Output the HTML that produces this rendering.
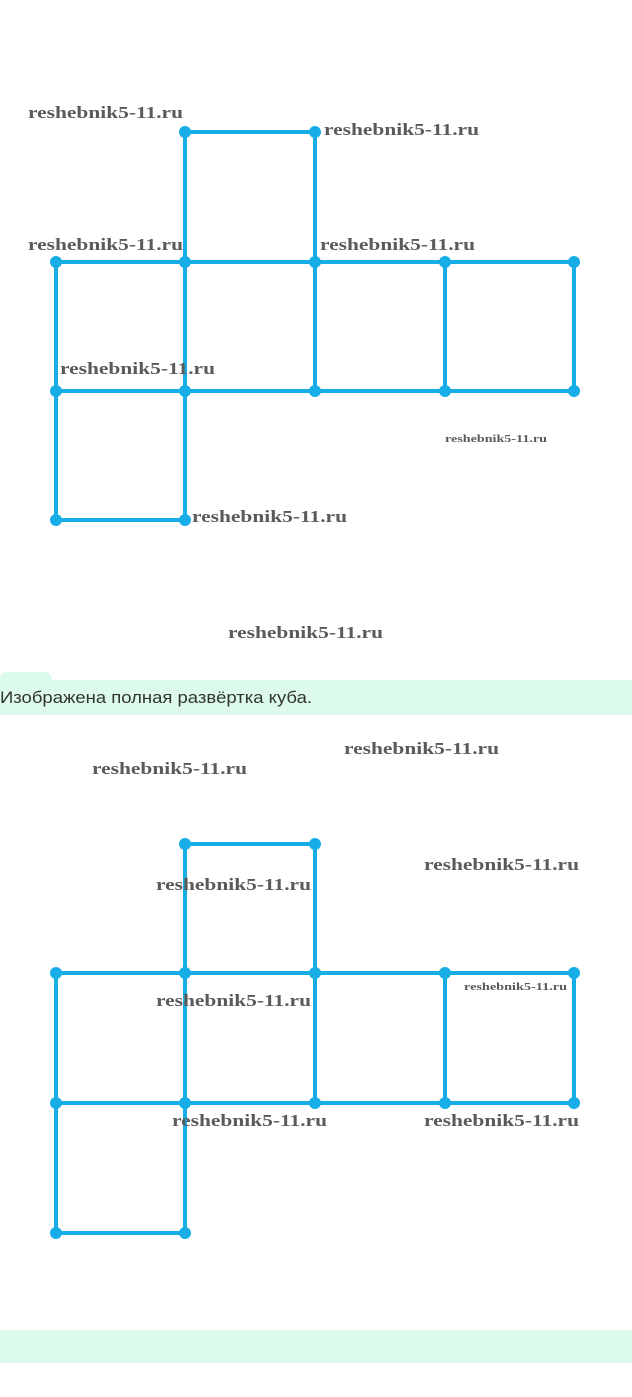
<!DOCTYPE html>
<html><head><meta charset="utf-8"><style>
html,body{margin:0;padding:0;background:#fff;}
body{width:632px;height:1397px;position:relative;overflow:hidden;}
svg{position:absolute;left:0;top:0;}
.w{font-family:"Liberation Serif",serif;font-weight:bold;font-size:17px;fill:#5a5a5a;}
.s{font-family:"Liberation Serif",serif;font-weight:bold;font-size:11px;fill:#5a5a5a;}
.t{font-family:"Liberation Sans","DejaVu Sans",sans-serif;font-size:17px;fill:#333;}
</style></head><body>
<svg width="632" height="1397" viewBox="0 0 632 1397" xmlns="http://www.w3.org/2000/svg">
<rect x="0" y="672" width="52" height="14" rx="7" fill="#dcfbea"/>
<rect x="0" y="680" width="632" height="35" fill="#dcfbea"/>
<text class="t" x="0" y="703" textLength="312" lengthAdjust="spacingAndGlyphs">Изображена полная развёртка куба.</text>
<rect x="0" y="1330" width="632" height="33" fill="#dcfbea"/>

<g stroke="#17aee8" stroke-width="4" fill="none" stroke-linecap="round">
<path d="M185 262V132H315V262"/>
<path d="M56 262H574V391H56Z"/>
<path d="M185 262V520M315 262V391M445 262V391"/>
<path d="M56 391V520H185"/>
<path d="M185 973V844H315V973"/>
<path d="M56 973H574V1103H56Z"/>
<path d="M185 973V1233M315 973V1103M445 973V1103"/>
<path d="M56 1103V1233H185"/>
</g>
<g fill="#17aee8">
<circle cx="185" cy="132" r="6"/><circle cx="315" cy="132" r="6"/>
<circle cx="56" cy="262" r="6"/><circle cx="185" cy="262" r="6"/><circle cx="315" cy="262" r="6"/><circle cx="445" cy="262" r="6"/><circle cx="574" cy="262" r="6"/>
<circle cx="56" cy="391" r="6"/><circle cx="185" cy="391" r="6"/><circle cx="315" cy="391" r="6"/><circle cx="445" cy="391" r="6"/><circle cx="574" cy="391" r="6"/>
<circle cx="56" cy="520" r="6"/><circle cx="185" cy="520" r="6"/>
<circle cx="185" cy="844" r="6"/><circle cx="315" cy="844" r="6"/>
<circle cx="56" cy="973" r="6"/><circle cx="185" cy="973" r="6"/><circle cx="315" cy="973" r="6"/><circle cx="445" cy="973" r="6"/><circle cx="574" cy="973" r="6"/>
<circle cx="56" cy="1103" r="6"/><circle cx="185" cy="1103" r="6"/><circle cx="315" cy="1103" r="6"/><circle cx="445" cy="1103" r="6"/><circle cx="574" cy="1103" r="6"/>
<circle cx="56" cy="1233" r="6"/><circle cx="185" cy="1233" r="6"/>
</g>

<g>
<text class="w" x="28" y="118" textLength="155" lengthAdjust="spacingAndGlyphs">reshebnik5-11.ru</text>
<text class="w" x="324" y="135" textLength="155" lengthAdjust="spacingAndGlyphs">reshebnik5-11.ru</text>
<text class="w" x="28" y="250" textLength="155" lengthAdjust="spacingAndGlyphs">reshebnik5-11.ru</text>
<text class="w" x="320" y="250" textLength="155" lengthAdjust="spacingAndGlyphs">reshebnik5-11.ru</text>
<text class="w" x="60" y="374" textLength="155" lengthAdjust="spacingAndGlyphs">reshebnik5-11.ru</text>
<text class="s" x="445" y="442" textLength="102" lengthAdjust="spacingAndGlyphs">reshebnik5-11.ru</text>
<text class="w" x="192" y="522" textLength="155" lengthAdjust="spacingAndGlyphs">reshebnik5-11.ru</text>
<text class="w" x="228" y="638" textLength="155" lengthAdjust="spacingAndGlyphs">reshebnik5-11.ru</text>

<text class="w" x="92" y="774" textLength="155" lengthAdjust="spacingAndGlyphs">reshebnik5-11.ru</text>
<text class="w" x="344" y="754" textLength="155" lengthAdjust="spacingAndGlyphs">reshebnik5-11.ru</text>
<text class="w" x="424" y="870" textLength="155" lengthAdjust="spacingAndGlyphs">reshebnik5-11.ru</text>
<text class="w" x="156" y="890" textLength="155" lengthAdjust="spacingAndGlyphs">reshebnik5-11.ru</text>
<text class="w" x="156" y="1006" textLength="155" lengthAdjust="spacingAndGlyphs">reshebnik5-11.ru</text>
<text class="s" x="464" y="990" textLength="103" lengthAdjust="spacingAndGlyphs">reshebnik5-11.ru</text>
<text class="w" x="172" y="1126" textLength="155" lengthAdjust="spacingAndGlyphs">reshebnik5-11.ru</text>
<text class="w" x="424" y="1126" textLength="155" lengthAdjust="spacingAndGlyphs">reshebnik5-11.ru</text>
</g>
</svg>
</body></html>
